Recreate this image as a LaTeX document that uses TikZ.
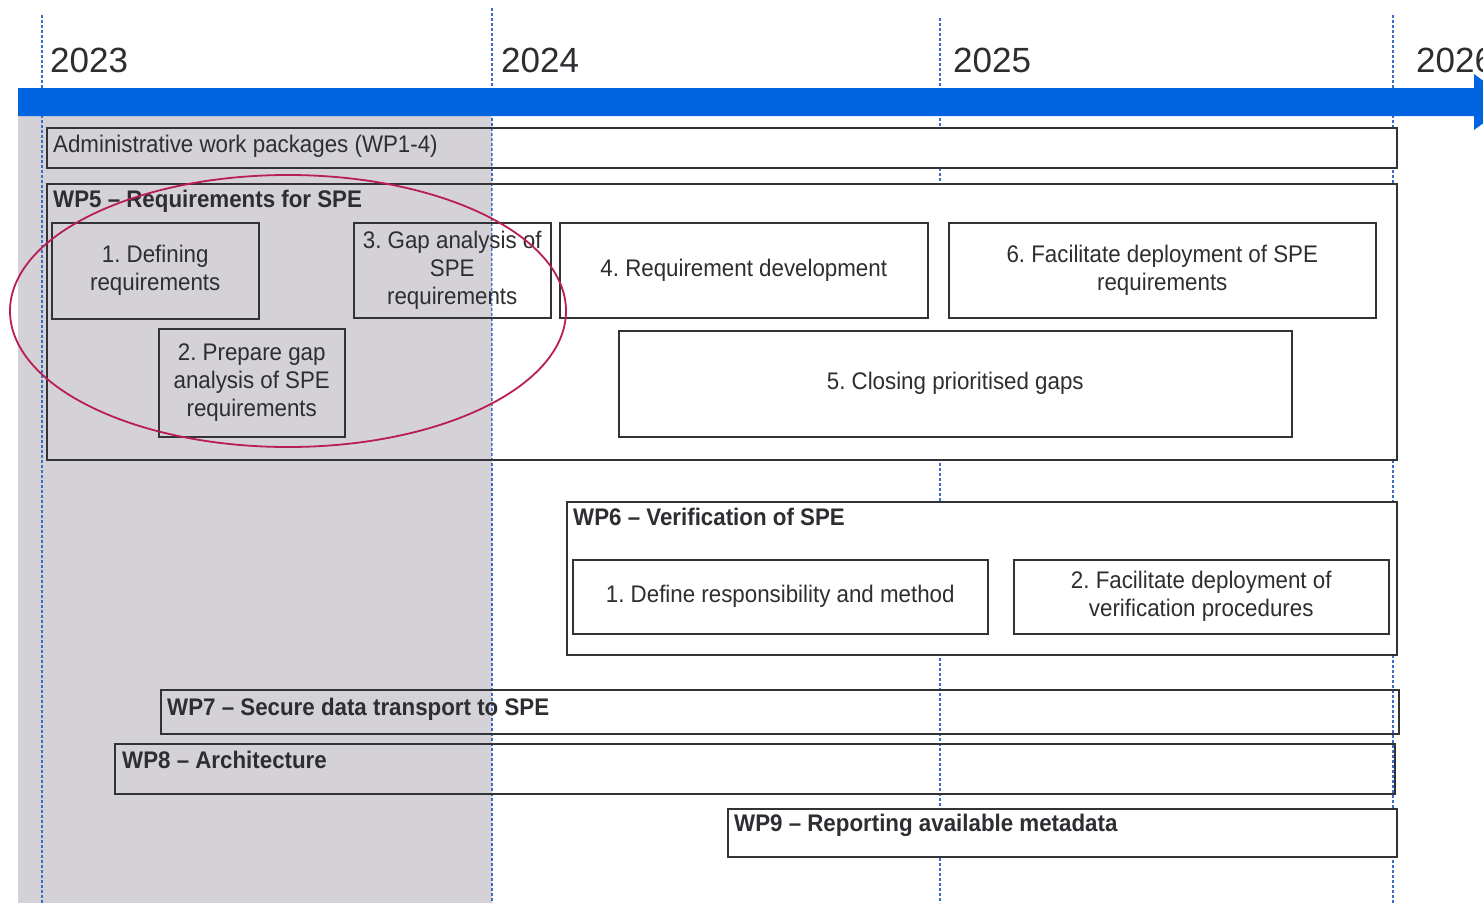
\documentclass[tikz,border=0pt]{standalone}
\usepackage{fontspec}
\setmainfont[FakeStretch=0.93]{Liberation Sans}
\newfontfamily\yearfont{Liberation Sans}
\usetikzlibrary{backgrounds}
\frenchspacing
\definecolor{barblue}{RGB}{0,100,225}
\definecolor{lineblue}{RGB}{60,110,200}
\definecolor{txt}{RGB}{45,45,50}
\definecolor{bord}{RGB}{50,50,55}
\definecolor{yrgray}{RGB}{212,210,215}
\definecolor{ring}{RGB}{185,30,80}
\begin{document}
\begin{tikzpicture}[x=1pt,y=-1pt,
  bx/.style={draw=bord, line width=1.5pt, text=txt, align=center, inner sep=0pt, anchor=north west,
    font=\fontsize{24}{28}\selectfont},
  ttl/.style={anchor=base west, inner sep=0pt, text=txt, font=\fontsize{24}{28}\selectfont\bfseries},
  ttlr/.style={anchor=base west, inner sep=0pt, text=txt, font=\fontsize{24}{28}\selectfont},
  yr/.style={anchor=base west, inner sep=0pt, text=txt, font=\fontsize{35}{40}\yearfont},
  yline/.style={draw=lineblue, line width=1.1pt, dash pattern=on 3pt off 2pt}]
\useasboundingbox (0,0) rectangle (1483,903);
% year guide line ends
\coordinate (l1t) at (42,15);  \coordinate (l1b) at (42,903);
\coordinate (l2t) at (492,8);  \coordinate (l2b) at (492,903);
\coordinate (l3t) at (940,18); \coordinate (l3b) at (940,903);
\coordinate (l4t) at (1393,15);\coordinate (l4b) at (1393,903);
% year labels
\node[yr] (y23) at (50,72) {2023};
\node[yr] (y24) at (501,72) {2024};
\node[yr] (y25) at (953,72) {2025};
\node[yr] (y26) at (1416,72) {2026};
% admin
\node[bx, minimum width=1350, minimum height=40] (adm) at (46,127) {};
\node[ttlr] (admt) at (53,152) {Administrative work packages (WP1-4)};
% WP5
\node[bx, minimum width=1350, minimum height=276] (wp5) at (46,183) {};
\node[ttl] (wp5t) at (53,207) {WP5 -- Requirements for SPE};
\node[bx, minimum width=207, minimum height=96] (r1) at (51,222) {1. Defining\\requirements};
\node[bx, minimum width=197, minimum height=95] (r3) at (353,222) {3. Gap analysis of\\SPE\\requirements};
\node[bx, minimum width=368, minimum height=95] (r4) at (559,222) {4. Requirement development};
\node[bx, minimum width=427, minimum height=95] (r6) at (948,222) {6. Facilitate deployment of SPE\\requirements};
\node[bx, minimum width=186, minimum height=108] (r2) at (158,328) {2. Prepare gap\\analysis of SPE\\requirements};
\node[bx, minimum width=673, minimum height=106] (r5) at (618,330) {5. Closing prioritised gaps};
% WP6
\node[bx, minimum width=830, minimum height=153] (wp6) at (566,501) {};
\node[ttl] (wp6t) at (573,525) {WP6 -- Verification of SPE};
\node[bx, minimum width=415, minimum height=74] (v1) at (572,559) {1. Define responsibility and method};
\node[bx, minimum width=375, minimum height=74] (v2) at (1013,559) {2. Facilitate deployment of\\verification procedures};
% WP7, WP8, WP9
\node[bx, minimum width=1238, minimum height=44] (wp7) at (160,689) {};
\node[ttl] (wp7t) at (167,715) {WP7 -- Secure data transport to SPE};
\node[bx, minimum width=1280, minimum height=50] (wp8) at (114,743) {};
\node[ttl] (wp8t) at (122,768) {WP8 -- Architecture};
\node[bx, minimum width=669, minimum height=48] (wp9) at (727,808) {};
\node[ttl] (wp9t) at (734,831) {WP9 -- Reporting available metadata};
% background: gray year band, guide lines, white box fills
\begin{pgfonlayer}{background}
\fill[white] (0,0) rectangle (1483,903);
\fill[yrgray] (18,116) rectangle (492,903);
\draw[yline] (l1t) -- (l1b);
\draw[yline] (l2t) -- (l2b);
\draw[yline] (l3t) -- (l3b);
\draw[yline] (l4t) -- (l4b);
\begin{scope}
\clip (492.6,0) rectangle (1483,903);
\foreach \b in {adm,wp5,r3,r4,r6,r5,wp6,v1,v2,wp9}
  \fill[white] (\b.north west) rectangle (\b.south east);
\end{scope}
\end{pgfonlayer}
% timeline arrow
\fill[barblue] (18,88) -- (1474,88) -- (1474,74) -- (1512,102) -- (1474,130) -- (1474,116) -- (18,116) -- cycle;
% highlight ellipse
\draw[ring, line width=1.8pt] (288,311) ellipse [x radius=278, y radius=136];
\end{tikzpicture}
\end{document}
